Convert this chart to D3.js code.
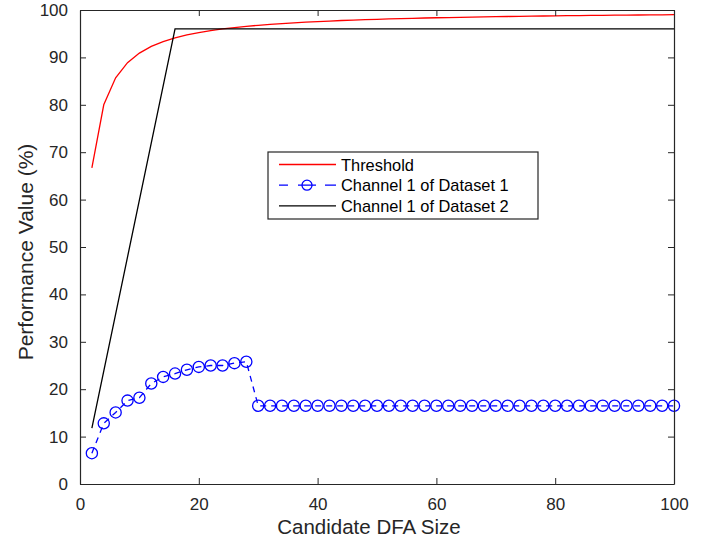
<!DOCTYPE html>
<html>
<head>
<meta charset="utf-8">
<script src="https://cdn.jsdelivr.net/npm/d3@7"></script>
<style>
  body { margin: 0; background: #fff; }
  svg { display: block; font-family: "Liberation Sans", Arial, sans-serif; }
</style>
</head>
<body>
<svg id="chart" width="705" height="541"></svg>
<script>
// x positions shared by the threshold and dataset 1 series
const sizes = [2, 4, 6, 8, 10, 12, 14, 16, 18, 20, 22, 24, 26, 28, 30, 32, 34, 36, 38, 40,
    42, 44, 46, 48, 50, 52, 54, 56, 58, 60, 62, 64, 66, 68, 70, 72, 74, 76, 78, 80,
    82, 84, 86, 88, 90, 92, 94, 96, 98, 100];

const threshold = [66.67, 80.00, 85.71, 88.89, 90.91, 92.31, 93.33, 94.12, 94.74, 95.24,
    95.65, 96.00, 96.30, 96.55, 96.77, 96.97, 97.14, 97.30, 97.44, 97.56,
    97.67, 97.78, 97.87, 97.96, 98.04, 98.11, 98.18, 98.25, 98.31, 98.36,
    98.41, 98.46, 98.51, 98.55, 98.59, 98.63, 98.67, 98.70, 98.73, 98.77,
    98.80, 98.82, 98.85, 98.88, 98.90, 98.92, 98.95, 98.97, 98.99, 99.01];

const dataset1 = [6.5, 12.8, 15.1, 17.6, 18.2, 21.2, 22.6, 23.3, 24.1, 24.7,
    25.0, 25.0, 25.5, 25.8, 16.5, 16.5, 16.5, 16.5, 16.5, 16.5,
    16.5, 16.5, 16.5, 16.5, 16.5, 16.5, 16.5, 16.5, 16.5, 16.5,
    16.5, 16.5, 16.5, 16.5, 16.5, 16.5, 16.5, 16.5, 16.5, 16.5,
    16.5, 16.5, 16.5, 16.5, 16.5, 16.5, 16.5, 16.5, 16.5, 16.5];

const dataset2Sizes = [2, 16, 100];
const dataset2 = [11.8, 96, 96];

const seriesNames = ['Threshold', 'Channel 1 of Dataset 1', 'Channel 1 of Dataset 2'];
const xTicks = [0, 20, 40, 60, 80, 100];
const yTicks = [0, 10, 20, 30, 40, 50, 60, 70, 80, 90, 100];

const axisColor = '#262626';
const plot = {left: 80, right: 674, top: 10, bottom: 484};

const svg = d3.select('#chart');
const x = d3.scaleLinear().domain([0, 100]).range([plot.left, plot.right]);
const y = d3.scaleLinear().domain([0, 100]).range([plot.bottom, plot.top]);

const line = d3.line().x(d => x(d[0])).y(d => y(d[1]));

// series
svg.append('path')
    .datum(sizes.map((s, i) => [s, threshold[i]]))
    .attr('d', line)
    .attr('fill', 'none').attr('stroke', '#ff0000').attr('stroke-width', 1.3);

const d1 = sizes.map((s, i) => [s, dataset1[i]]);
svg.append('path')
    .datum(d1)
    .attr('d', line)
    .attr('fill', 'none').attr('stroke', '#0000ff').attr('stroke-width', 1.3)
    .attr('stroke-dasharray', '6,5');

svg.selectAll('.m1')
    .data(d1)
    .enter().append('circle')
    .attr('cx', d => x(d[0]))
    .attr('cy', d => y(d[1]))
    .attr('r', 5.6)
    .attr('fill', 'none').attr('stroke', '#0000ff').attr('stroke-width', 1.3);

svg.append('path')
    .datum(dataset2Sizes.map((s, i) => [s, dataset2[i]]))
    .attr('d', line)
    .attr('fill', 'none').attr('stroke', '#000000').attr('stroke-width', 1.3);

// axes (box with inward ticks on all four sides)
const tickLen = 6;
const bottomAxis = svg.append('g')
    .attr('transform', `translate(0,${plot.bottom})`)
    .call(d3.axisBottom(x).tickValues(xTicks).tickSizeInner(-tickLen).tickSizeOuter(0).tickPadding(14));
const leftAxis = svg.append('g')
    .attr('transform', `translate(${plot.left},0)`)
    .call(d3.axisLeft(y).tickValues(yTicks).tickSizeInner(-tickLen).tickSizeOuter(0).tickPadding(12));
const topAxis = svg.append('g')
    .attr('transform', `translate(0,${plot.top})`)
    .call(d3.axisTop(x).tickValues(xTicks).tickSizeInner(-tickLen).tickSizeOuter(0).tickFormat(''));
const rightAxis = svg.append('g')
    .attr('transform', `translate(${plot.right},0)`)
    .call(d3.axisRight(y).tickValues(yTicks).tickSizeInner(-tickLen).tickSizeOuter(0).tickFormat(''));

[bottomAxis, leftAxis, topAxis, rightAxis].forEach(a => {
    a.select('.domain').attr('stroke', axisColor).attr('stroke-width', 1.2);
    a.selectAll('.tick line').attr('stroke', axisColor);
    a.selectAll('.tick text').attr('fill', axisColor)
        .style('font-size', '17px').style('font-family', '"Liberation Sans", Arial, sans-serif');
});

// axis labels
svg.append('text')
    .attr('x', 369).attr('y', 534)
    .attr('text-anchor', 'middle').attr('fill', axisColor)
    .style('font-size', '20.5px')
    .text('Candidate DFA Size');

svg.append('text')
    .attr('transform', 'translate(33,252) rotate(-90)')
    .attr('text-anchor', 'middle').attr('fill', axisColor)
    .style('font-size', '21px')
    .text('Performance Value (%)');

// legend
const legend = svg.append('g').attr('transform', 'translate(268,152)');
legend.append('rect')
    .attr('width', 270).attr('height', 67)
    .attr('fill', '#fff').attr('stroke', axisColor).attr('stroke-width', 1.2);

const legendColors = ['#ff0000', '#0000ff', '#000000'];
seriesNames.forEach((name, i) => {
    const row = legend.append('g').attr('transform', `translate(0,${12.5 + i * 20.7})`);
    row.append('line')
        .attr('x1', 11).attr('x2', 68)
        .attr('stroke', legendColors[i]).attr('stroke-width', 1.3)
        .attr('stroke-dasharray', i === 1 ? '9,10,18,9,11' : null);
    if (i === 1) {
        row.append('circle').attr('cx', 39).attr('r', 5)
            .attr('fill', 'none').attr('stroke', '#0000ff').attr('stroke-width', 1.3);
    }
    row.append('text')
        .attr('x', 73).attr('y', 6)
        .attr('fill', '#000').style('font-size', '16.4px')
        .text(name);
});
</script>
</body>
</html>
